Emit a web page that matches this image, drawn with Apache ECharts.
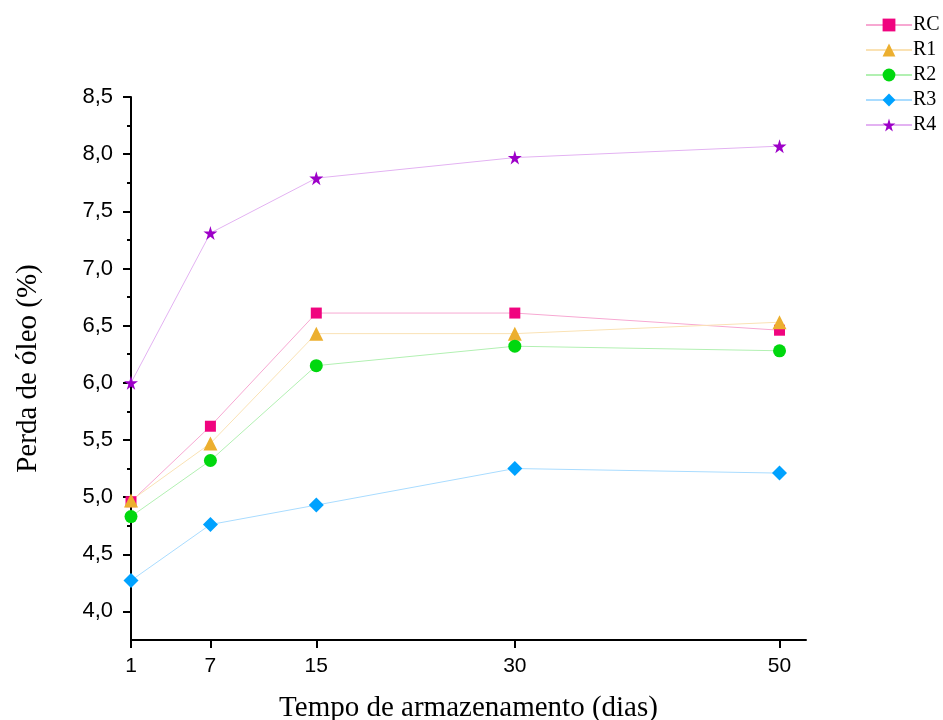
<!DOCTYPE html>
<html>
<head>
<meta charset="utf-8">
<style>
  html, body { margin: 0; padding: 0; background: #fff; }
  #chart { width: 943px; height: 720px; }
</style>
<script src="https://cdn.jsdelivr.net/npm/echarts@6/dist/echarts.min.js"></script>
</head>
<body>
<div id="chart"></div>
<script>
const days = [1, 7, 15, 30, 50];
const seriesNames = ["RC", "R1", "R2", "R3", "R4"];
const rc = [4.96, 5.62, 6.61, 6.61, 6.46];
const r1 = [4.97, 5.47, 6.43, 6.43, 6.53];
const r2 = [4.83, 5.32, 6.15, 6.32, 6.28];
const r3 = [4.27, 4.76, 4.93, 5.25, 5.21];
const r4 = [6.0, 7.31, 7.79, 7.97, 8.07];
const yTicks = [4.0, 4.5, 5.0, 5.5, 6.0, 6.5, 7.0, 7.5, 8.0, 8.5];
const yMinorTicks = [4.25, 4.75, 5.25, 5.75, 6.25, 6.75, 7.25, 7.75, 8.25];

const STAR = "path://M50,0 L61,35 L98,35 L68,57 L79,91 L50,70 L21,91 L32,57 L2,35 L39,35 Z";

const looks = [
  { color: "#f0047f", line: "#f7a8d2", symbol: "rect", size: 11 },
  { color: "#ecaf2f", line: "#fae2b4", symbol: "triangle", size: 14 },
  { color: "#00d80e", line: "#b2f0b2", symbol: "circle", size: 13 },
  { color: "#00a2ff", line: "#a9dcff", symbol: "diamond", size: 15 },
  { color: "#9d00c8", line: "#e3b2f2", symbol: STAR, size: 14 }
];
const values = [rc, r1, r2, r3, r4];

const fmt = (v) => v.toFixed(1).replace(".", ",");

const chart = echarts.init(document.getElementById("chart"));
chart.setOption({
  animation: false,
  grid: { left: 131, right: 137, top: 97, bottom: 80, outerBoundsMode: "none", containLabel: false },
  legend: {
    orient: "vertical",
    left: 860,
    top: 10,
    itemWidth: 46,
    itemHeight: 16,
    itemGap: 5,
    itemStyle: { borderWidth: 0 },
    textStyle: { fontFamily: "Liberation Serif", fontSize: 20, color: "#000", padding: [0, 0, 0, -4] },
    data: seriesNames.map((n, i) => ({ name: n, itemStyle: { color: looks[i].color } }))
  },
  xAxis: {
    type: "value",
    min: 1,
    max: 52,
    name: "Tempo de armazenamento (dias)",
    nameLocation: "middle",
    nameGap: 54,
    nameTextStyle: { fontFamily: "Liberation Serif", fontSize: 29, color: "#000" },
    axisLine: { onZero: false, lineStyle: { color: "#000", width: 2 } },
    axisTick: { show: true, customValues: days, length: 8, lineStyle: { color: "#000", width: 2 } },
    axisLabel: {
      customValues: days,
      margin: 16,
      fontFamily: "Liberation Sans",
      fontSize: 21,
      color: "#000"
    },
    splitLine: { show: false }
  },
  yAxis: [
    {
      type: "value",
      min: 3.75,
      max: 8.5,
      name: "Perda de óleo (%)",
      nameLocation: "middle",
      nameGap: 88,
      nameTextStyle: { fontFamily: "Liberation Serif", fontSize: 29, color: "#000" },
      axisLine: { show: true, lineStyle: { color: "#000", width: 2 } },
      axisTick: { show: true, customValues: yTicks, length: 8, lineStyle: { color: "#000", width: 2 } },
      axisLabel: {
        customValues: yTicks,
        margin: 18,
        formatter: fmt,
        fontFamily: "Liberation Sans",
        fontSize: 22,
        color: "#000"
      },
      splitLine: { show: false }
    },
    {
      type: "value",
      min: 3.75,
      max: 8.5,
      position: "left",
      axisLine: { show: false },
      axisTick: { show: true, customValues: yMinorTicks, length: 4, lineStyle: { color: "#000", width: 2 } },
      axisLabel: { show: false },
      splitLine: { show: false }
    }
  ],
  series: seriesNames.map((name, i) => ({
    name: name,
    type: "line",
    yAxisIndex: 0,
    clip: false,
    data: days.map((d, j) => [d, values[i][j]]),
    symbol: looks[i].symbol,
    symbolSize: looks[i].size,
    showAllSymbol: true,
    itemStyle: { color: looks[i].color },
    lineStyle: { color: looks[i].line, width: 1 },
    z: 3
  }))
});
</script>
</body>
</html>
